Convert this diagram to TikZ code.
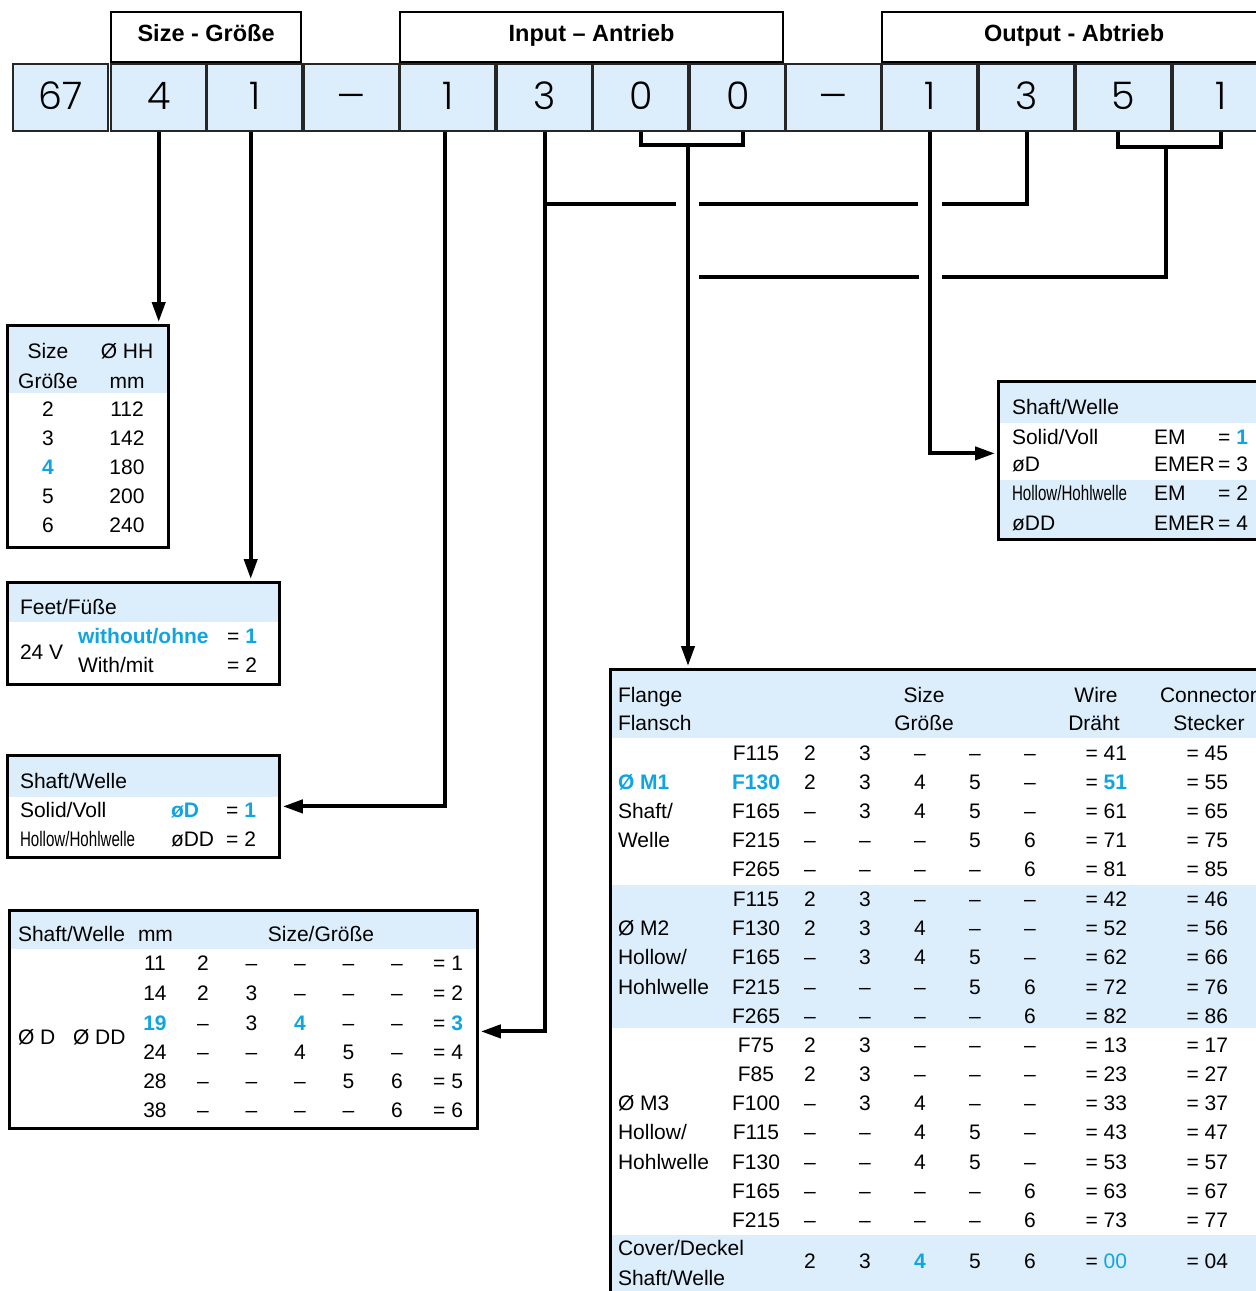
\documentclass[tikz,border=0pt]{standalone}
\usepackage{fontspec}
\setmainfont{Liberation Sans}
\newfontfamily\condfont{Liberation Sans}[FakeStretch=0.72]
\newfontfamily\codefont{Poppins}[UprightFont=* Light]
\usetikzlibrary{arrows.meta}
\definecolor{lblue}{RGB}{220,238,251}
\definecolor{hblue}{RGB}{16,165,225}
\newcommand\hb[1]{\textcolor{hblue}{\bfseries #1}}
\newcommand\frow[9]{%
  \node[tx,anchor=base] (f#1) at (756,#1+7.5) {#2};
  \foreach \v [count=\k] in {#3,#4,#5,#6,#7}
    \node[tx,anchor=base] (f#1-\k) at (755+55*\k,#1+7.5) {\v};
  \node[tx,anchor=base east] (f#1-w) at (1127,#1+7.5) {= #8};
  \node[tx,anchor=base east] (f#1-c) at (1228,#1+7.5) {= #9};
}
\newcommand\srow[8]{%
  \node[tx,anchor=base] (s#1) at (155,#1+7.5) {#2};
  \foreach \v [count=\k] in {#3,#4,#5,#6,#7}
    \node[tx,anchor=base] (s#1-\k) at (154.5+48.5*\k,#1+7.5) {\v};
  \node[tx,anchor=base east] (s#1-e) at (463,#1+7.5) {= #8};
}
\begin{document}
\begin{tikzpicture}[x=1pt,y=-1pt,
  tx/.style={font=\fontsize{21}{25}\selectfont, inner sep=0pt, outer sep=0pt},
  hdr/.style={font=\bfseries\fontsize{23.5}{26}\selectfont, draw=black, line width=2.2pt, fill=white, inner sep=0pt, text height=17pt, text depth=8pt, anchor=north west, minimum height=50pt},
  codebox/.style={draw=black!85, line width=2.4pt, fill=lblue, minimum width=95pt, minimum height=67pt, inner sep=0pt, text height=27pt, text depth=3pt, anchor=north west, font=\codefont\fontsize{38}{40}\selectfont},
  tframe/.style={draw=black, line width=2.8pt, inner sep=0pt, anchor=north west},
  conn/.style={line width=4pt},
  arr/.style={-{Triangle[length=20pt,width=13pt]}, shorten >=2pt},
]
\useasboundingbox (0,0) rectangle (1256,1291);
\clip (0,0) rectangle (1256,1291);
\fill[white] (0,0) rectangle (1256,1291);

% header boxes
\node[hdr, minimum width=190pt] (hsize) at (110,11) {Size - Größe};
\node[hdr, minimum width=383pt] (hin) at (399,11) {Input – Antrieb};
\node[hdr, minimum width=384pt] (hout) at (881,11) {Output - Abtrieb};

% code boxes
\foreach \i/\L/\t in {1/12/67,2/110/4,3/206/1,4/303/{\scalebox{1.2}[1]{–}},5/399/1,6/496/3,7/592/0,8/689/0,9/785/{\scalebox{1.2}[1]{–}},10/881/1,11/978/3,12/1075/5,13/1172/1}
  \node[codebox] (c\i) at (\L,63) {\t};

% shaded bands
\fill[lblue] (6,324) rectangle (167,393);
\fill[lblue] (6,581) rectangle (278,622);
\fill[lblue] (6,754) rectangle (278,797);
\fill[lblue] (8,909) rectangle (476,949);
\fill[lblue] (997,380) rectangle (1270,423);
\fill[lblue] (997,480) rectangle (1270,538);
\fill[lblue] (609,668) rectangle (1270,738);
\fill[lblue] (609,885) rectangle (1270,1028);
\fill[lblue] (609,1235) rectangle (1270,1300);

% table frames
\node[tframe, minimum width=161pt, minimum height=222pt] (tsize) at (6,324) {};
\node[tframe, minimum width=272pt, minimum height=102pt] (tfeet) at (6,581) {};
\node[tframe, minimum width=272pt, minimum height=102pt] (tshaft) at (6,754) {};
\node[tframe, minimum width=468pt, minimum height=218pt] (tsw) at (8,909) {};
\node[tframe, minimum width=280pt, minimum height=158pt] (trs) at (997,380) {};
\node[tframe, minimum width=680pt, minimum height=650pt] (tflange) at (609,668) {};

% size table
\node[tx,anchor=base] (szh1) at (48,358.5) {Size};
\node[tx,anchor=base] (szh2) at (127,358.5) {Ø HH};
\node[tx,anchor=base] (szh3) at (48,388.5) {Größe};
\node[tx,anchor=base] (szh4) at (127,388.5) {mm};
\foreach \y/\a/\b [count=\k] in {416.5/2/112, 445.5/3/142, 474.5/{\hb{4}}/180, 503.5/5/200, 532.5/6/240}{
  \node[tx,anchor=base] (sza\k) at (48,\y) {\a};
  \node[tx,anchor=base] (szb\k) at (127,\y) {\b};
}

% feet table
\node[tx,anchor=base west] (ft1) at (20,614.5) {Feet/Füße};
\node[tx,anchor=base west] (ft2) at (20,659.5) {24 V};
\node[tx,anchor=base west] (ft3) at (78,643.5) {\hb{without/ohne}};
\node[tx,anchor=base east] (ft4) at (257,643.5) {= \hb{1}};
\node[tx,anchor=base west] (ft5) at (78,672.5) {With/mit};
\node[tx,anchor=base east] (ft6) at (257,672.5) {= 2};

% left shaft table
\node[tx,anchor=base west] (sh1) at (20,788.5) {Shaft/Welle};
\node[tx,anchor=base west] (sh2) at (20,817.5) {Solid/Voll};
\node[tx,anchor=base west] (sh3) at (171,817.5) {\hb{øD}};
\node[tx,anchor=base east] (sh4) at (256,817.5) {= \hb{1}};
\node[tx,anchor=base west] (sh5) at (20,846.5) {\condfont Hollow/Hohlwelle};
\node[tx,anchor=base west] (sh6) at (171,846.5) {øDD};
\node[tx,anchor=base east] (sh7) at (256,846.5) {= 2};

% bottom-left shaft size table
\node[tx,anchor=base west] (sw1) at (18,941.5) {Shaft/Welle};
\node[tx,anchor=base west] (sw2) at (138,941.5) {mm};
\node[tx,anchor=base] (sw3) at (321,941.5) {Size/Größe};
\node[tx,anchor=base west] (sw4) at (18,1044.5) {Ø D};
\node[tx,anchor=base west] (sw5) at (73,1044.5) {Ø DD};
\srow{963}{11}{2}{–}{–}{–}{–}{1}
\srow{993}{14}{2}{3}{–}{–}{–}{2}
\srow{1023}{\hb{19}}{–}{3}{\hb{4}}{–}{–}{\hb{3}}
\srow{1052}{24}{–}{–}{4}{5}{–}{4}
\srow{1081}{28}{–}{–}{–}{5}{6}{5}
\srow{1110}{38}{–}{–}{–}{–}{6}{6}

% right shaft table
\node[tx,anchor=base west] (rs1) at (1012,414.5) {Shaft/Welle};
\node[tx,anchor=base west] (rs2) at (1012,444.5) {Solid/Voll};
\node[tx,anchor=base west] (rs3) at (1154,444.5) {EM};
\node[tx,anchor=base east] (rs4) at (1248,444.5) {= \hb{1}};
\node[tx,anchor=base west] (rs5) at (1012,471.5) {øD};
\node[tx,anchor=base west] (rs6) at (1154,471.5) {EMER};
\node[tx,anchor=base east] (rs7) at (1248,471.5) {= 3};
\node[tx,anchor=base west] (rs8) at (1012,500.5) {\condfont Hollow/Hohlwelle};
\node[tx,anchor=base west] (rs9) at (1154,500.5) {EM};
\node[tx,anchor=base east] (rs10) at (1248,500.5) {= 2};
\node[tx,anchor=base west] (rs11) at (1012,530.5) {øDD};
\node[tx,anchor=base west] (rs12) at (1154,530.5) {EMER};
\node[tx,anchor=base east] (rs13) at (1248,530.5) {= 4};

% flange table
\node[tx,anchor=base west] (fh1) at (618,702.5) {Flange};
\node[tx,anchor=base west] (fh2) at (618,730.5) {Flansch};
\node[tx,anchor=base] (fh3) at (924,702.5) {Size};
\node[tx,anchor=base] (fh4) at (924,730.5) {Größe};
\node[tx,anchor=base] (fh5) at (1096,702.5) {Wire};
\node[tx,anchor=base] (fh6) at (1094,730.5) {Dräht};
\node[tx,anchor=base west] (fh7) at (1160,702.5) {Connector};
\node[tx,anchor=base] (fh8) at (1209,730.5) {Stecker};
\node[tx,anchor=base west] (fl1) at (618,789.5) {\hb{Ø M1}};
\node[tx,anchor=base west] (fl2) at (618,818.5) {Shaft/};
\node[tx,anchor=base west] (fl3) at (618,847.5) {Welle};
\node[tx,anchor=base west] (fl4) at (618,935.5) {Ø M2};
\node[tx,anchor=base west] (fl5) at (618,964.5) {Hollow/};
\node[tx,anchor=base west] (fl6) at (618,994.5) {Hohlwelle};
\node[tx,anchor=base west] (fl7) at (618,1110.5) {Ø M3};
\node[tx,anchor=base west] (fl8) at (618,1139.5) {Hollow/};
\node[tx,anchor=base west] (fl9) at (618,1169.5) {Hohlwelle};
\frow{753}{F115}{2}{3}{–}{–}{–}{41}{45}
\frow{782}{\hb{F130}}{2}{3}{4}{5}{–}{\hb{51}}{55}
\frow{811}{F165}{–}{3}{4}{5}{–}{61}{65}
\frow{840}{F215}{–}{–}{–}{5}{6}{71}{75}
\frow{869}{F265}{–}{–}{–}{–}{6}{81}{85}
\frow{899}{F115}{2}{3}{–}{–}{–}{42}{46}
\frow{928}{F130}{2}{3}{4}{–}{–}{52}{56}
\frow{957}{F165}{–}{3}{4}{5}{–}{62}{66}
\frow{987}{F215}{–}{–}{–}{5}{6}{72}{76}
\frow{1016}{F265}{–}{–}{–}{–}{6}{82}{86}
\frow{1045}{F75}{2}{3}{–}{–}{–}{13}{17}
\frow{1074}{F85}{2}{3}{–}{–}{–}{23}{27}
\frow{1103}{F100}{–}{3}{4}{–}{–}{33}{37}
\frow{1132}{F115}{–}{–}{4}{5}{–}{43}{47}
\frow{1162}{F130}{–}{–}{4}{5}{–}{53}{57}
\frow{1191}{F165}{–}{–}{–}{–}{6}{63}{67}
\frow{1220}{F215}{–}{–}{–}{–}{6}{73}{77}
\node[tx,anchor=base west] (cv1) at (618,1255.5) {Cover/Deckel};
\node[tx,anchor=base west] (cv2) at (618,1285.5) {Shaft/Welle};
\frow{1261}{}{2}{3}{\hb{4}}{5}{6}{\textcolor{hblue}{00}}{04}

% connectors
\draw[conn,arr] (c2.south) -- (c2.south |- tsize.north);
\draw[conn,arr] ([xshift=-4pt]c3.south) -- ([xshift=-4pt]c3.south |- tfeet.north);
\draw[conn,arr] ([xshift=-3pt]c5.south) |- (tshaft.east);
\draw[conn,arr] (c6.south) |- ([yshift=-12pt]tsw.east);
\coordinate (b1) at (688,145);
\draw[conn] (c7.south) |- (b1) -| ([xshift=5pt]c8.south);
\draw[conn,arr] (b1) -- (b1 |- tflange.north);
\draw[conn,arr] (c10.south) |- ([yshift=7pt]trs.west);
\coordinate (b2) at (1166,147);
\draw[conn] ([xshift=-6pt]c12.south) |- (b2) -| (c13.south);
\coordinate (h1a) at (c6.south |- 0,204);
\coordinate (h1b) at (676,204);
\coordinate (h1c) at (699,204);
\coordinate (h1d) at (918,204);
\coordinate (h1e) at (942,204);
\draw[conn] (h1a) -- (h1b);
\draw[conn] (h1c) -- (h1d);
\draw[conn] (h1e) -| (c11.south);
\coordinate (h2a) at (699,277);
\coordinate (h2b) at (919,277);
\coordinate (h2c) at (942,277);
\draw[conn] (b2) |- (h2c);
\draw[conn] (h2b) -- (h2a);
\end{tikzpicture}
\end{document}
